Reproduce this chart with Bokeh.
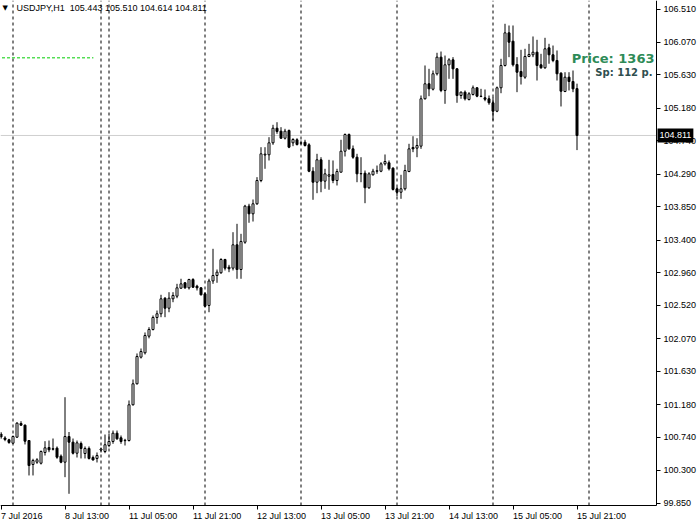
from bokeh.plotting import figure
from bokeh.models import Range1d, FixedTicker, PrintfTickFormatter, Label, ColumnDataSource
from bokeh.embed import file_html
from bokeh.resources import INLINE

symbol = "USDJPY,H1"

# Hourly bars, 7 Jul 2016 21:00 .. 15 Jul 2016 21:00 (bar index 0..144)
opens = [
    100.786, 100.732, 100.708, 100.662, 100.743, 100.928, 100.905, 100.698, 100.375, 100.406,
    100.392, 100.537, 100.604, 100.587, 100.595, 100.487, 100.406, 100.752, 100.676, 100.527,
    100.658, 100.523, 100.591, 100.469, 100.456, 100.570, 100.550, 100.631, 100.685, 100.797,
    100.735, 100.696, 100.698, 101.180, 101.463, 101.822, 101.881, 102.105, 102.195, 102.357,
    102.407, 102.617, 102.482, 102.609, 102.644, 102.752, 102.825, 102.757, 102.869, 102.779,
    102.757, 102.676, 102.519, 102.850, 102.923, 102.960, 103.139, 103.035, 103.022, 103.337,
    103.004, 103.372, 103.858, 103.755, 103.890, 104.204, 104.548, 104.551, 104.712, 104.909,
    104.869, 104.774, 104.878, 104.712, 104.753, 104.707, 104.720, 104.685, 104.329, 104.181,
    104.483, 104.195, 104.262, 104.285, 104.204, 104.316, 104.599, 104.824, 104.631, 104.518,
    104.294, 104.302, 104.106, 104.281, 104.329, 104.329, 104.429, 104.443, 104.370, 104.092,
    104.046, 104.092, 104.325, 104.649, 104.640, 104.667, 105.306, 105.508, 105.435, 105.643,
    105.867, 105.418, 105.764, 105.831, 105.710, 105.350, 105.395, 105.296, 105.364, 105.454,
    105.341, 105.319, 105.306, 105.252, 105.138, 105.454, 105.755, 106.195, 106.082, 105.768,
    105.674, 105.597, 105.876, 105.899, 105.934, 105.764, 105.724, 105.993, 105.899, 105.822,
    105.651, 105.404, 105.597, 105.539, 105.443]
highs = [
    100.813, 100.756, 100.721, 100.766, 100.945, 100.959, 100.914, 100.698, 100.452, 100.460,
    100.564, 100.689, 100.698, 100.725, 100.618, 100.510, 101.282, 100.813, 100.725, 100.698,
    100.685, 100.618, 100.618, 100.496, 100.537, 100.604, 100.779, 100.789, 100.833, 100.833,
    100.766, 100.721, 101.238, 101.521, 101.872, 101.939, 102.155, 102.226, 102.384, 102.451,
    102.663, 102.631, 102.698, 102.698, 102.811, 102.879, 102.833, 102.879, 102.887, 102.798,
    102.765, 102.698, 102.879, 103.283, 103.004, 103.156, 103.148, 103.067, 103.507, 103.620,
    103.485, 103.876, 103.890, 103.948, 104.249, 104.653, 104.653, 104.788, 104.955, 104.990,
    104.923, 104.901, 104.892, 104.774, 104.774, 104.743, 104.753, 104.707, 104.383, 104.564,
    104.518, 104.362, 104.483, 104.474, 104.362, 104.753, 104.838, 104.838, 104.676, 104.564,
    104.518, 104.339, 104.316, 104.362, 104.406, 104.451, 104.555, 104.474, 104.383, 104.114,
    104.281, 104.416, 104.699, 104.801, 104.774, 105.350, 105.755, 105.710, 105.687, 105.926,
    105.943, 105.889, 105.853, 105.867, 105.718, 105.404, 105.418, 105.395, 105.485, 105.462,
    105.440, 105.431, 105.350, 105.327, 105.471, 105.845, 106.317, 106.294, 106.294, 105.867,
    105.966, 105.980, 106.047, 106.146, 106.101, 105.912, 106.128, 106.047, 106.024, 105.957,
    105.664, 105.664, 105.664, 105.687, 105.510]
lows = [
    100.721, 100.689, 100.654, 100.654, 100.735, 100.897, 100.645, 100.227, 100.227, 100.384,
    100.375, 100.496, 100.541, 100.564, 100.452, 100.392, 100.204, 99.980, 100.510, 100.469,
    100.456, 100.456, 100.442, 100.429, 100.402, 100.537, 100.527, 100.608, 100.654, 100.708,
    100.654, 100.631, 100.685, 101.170, 101.454, 101.804, 101.858, 102.076, 102.182, 102.272,
    102.361, 102.361, 102.428, 102.563, 102.617, 102.744, 102.744, 102.734, 102.757, 102.721,
    102.654, 102.496, 102.428, 102.811, 102.825, 102.946, 102.991, 102.968, 102.991, 102.879,
    102.879, 103.351, 103.634, 103.651, 103.876, 104.181, 104.362, 104.474, 104.685, 104.834,
    104.766, 104.757, 104.640, 104.667, 104.676, 104.689, 104.662, 104.316, 103.944, 104.033,
    104.046, 104.092, 104.079, 104.168, 104.137, 104.316, 104.528, 104.618, 104.497, 104.181,
    104.181, 103.898, 104.092, 104.271, 104.294, 104.316, 104.406, 104.339, 104.069, 103.992,
    103.957, 104.069, 104.316, 104.586, 104.518, 104.631, 105.296, 105.341, 105.418, 105.620,
    105.395, 105.238, 105.575, 105.575, 105.252, 105.306, 105.283, 105.283, 105.350, 105.327,
    105.327, 105.273, 105.225, 105.013, 105.125, 105.381, 105.741, 105.867, 105.741, 105.395,
    105.498, 105.575, 105.867, 105.867, 105.552, 105.710, 105.710, 105.778, 105.799, 105.552,
    105.202, 105.395, 105.418, 105.395, 104.614]
closes = [
    100.746, 100.712, 100.672, 100.752, 100.932, 100.905, 100.689, 100.361, 100.429, 100.438,
    100.550, 100.600, 100.573, 100.581, 100.473, 100.406, 100.752, 100.676, 100.527, 100.667,
    100.591, 100.591, 100.456, 100.436, 100.496, 100.584, 100.641, 100.685, 100.797, 100.721,
    100.685, 100.701, 101.180, 101.463, 101.831, 101.898, 102.114, 102.195, 102.357, 102.407,
    102.609, 102.482, 102.617, 102.654, 102.757, 102.811, 102.757, 102.869, 102.765, 102.757,
    102.663, 102.509, 102.849, 102.923, 102.968, 103.139, 103.022, 103.014, 103.337, 103.004,
    103.382, 103.858, 103.755, 103.890, 104.204, 104.564, 104.559, 104.712, 104.909, 104.865,
    104.774, 104.869, 104.653, 104.757, 104.689, 104.712, 104.676, 104.329, 104.181, 104.483,
    104.195, 104.294, 104.281, 104.204, 104.325, 104.599, 104.824, 104.631, 104.518, 104.294,
    104.298, 104.106, 104.294, 104.329, 104.335, 104.429, 104.460, 104.362, 104.083, 104.046,
    104.092, 104.339, 104.631, 104.631, 104.676, 105.306, 105.508, 105.440, 105.643, 105.867,
    105.418, 105.764, 105.831, 105.710, 105.350, 105.395, 105.306, 105.373, 105.454, 105.341,
    105.337, 105.299, 105.252, 105.138, 105.454, 105.755, 106.195, 106.069, 105.764, 105.664,
    105.606, 105.876, 105.903, 105.934, 105.755, 105.724, 105.980, 105.899, 105.822, 105.643,
    105.408, 105.597, 105.539, 105.440, 104.811]

# time axis
time_label_bars = [0, 16, 32, 48, 64, 80, 96, 112, 128, 144]
time_labels = ["7 Jul 2016", "8 Jul 13:00", "11 Jul 05:00", "11 Jul 21:00", "12 Jul 13:00",
               "13 Jul 05:00", "13 Jul 21:00", "14 Jul 13:00", "15 Jul 05:00", "15 Jul 21:00"]
day_separator_bars = [3, 25, 27, 51, 75, 99, 123, 147]

# price axis
price_ticks = [106.510, 106.070, 105.630, 105.180, 104.740, 104.290, 103.850, 103.400,
               102.960, 102.520, 102.070, 101.630, 101.180, 100.740, 100.300, 99.850]

price_points = 1363
spread_points = 112
level_line_price = 105.858
level_line_end_bar = 23.1

FONT = "Liberation Sans"
W, H = 698, 526

# visible price window and bar window of the chart area
chart_lo, chart_hi = 99.822, 106.631
bar_lo, bar_hi = -0.125, 163.875
px_per_price = 505 / (chart_hi - chart_lo)
px_per_bar = 4

n = len(closes)
idx = list(range(n))
src = ColumnDataSource(dict(
    idx=idx, high=highs, low=lows,
    top=[max(o, c) for o, c in zip(opens, closes)],
    bottom=[min(o, c) for o, c in zip(opens, closes)],
    fill=["white" if c >= o else "black" for o, c in zip(opens, closes)],
))

p = figure(width=W, height=H, output_backend="svg", toolbar_location=None,
           x_range=Range1d(bar_lo, bar_lo + W / px_per_bar),
           y_range=Range1d(chart_hi - H / px_per_price, chart_hi),
           y_axis_location="right",
           min_border_left=0, min_border_top=0, min_border_right=0, min_border_bottom=0)
p.background_fill_color = "white"
p.border_fill_color = "white"
p.outline_line_color = None
p.xgrid.visible = False
p.ygrid.visible = False

# right price axis, pinned to the chart's right edge
ya = p.yaxis[0]
ya.fixed_location = bar_hi
ya.bounds = (chart_lo, chart_hi)
ya.ticker = FixedTicker(ticks=price_ticks)
ya.formatter = PrintfTickFormatter(format="%.3f")
ya.major_tick_out = 4
ya.major_tick_in = 0
ya.minor_tick_line_color = None
ya.major_label_standoff = 3
ya.major_label_text_font = FONT
ya.major_label_text_font_size = "9px"
ya.major_label_text_color = "black"
ya.axis_line_color = "black"
ya.major_tick_line_color = "black"

# bottom time axis, pinned to the chart's bottom edge (tick marks; labels left-aligned below)
xa = p.xaxis[0]
xa.fixed_location = chart_lo
xa.bounds = (bar_lo, bar_hi)
xa.ticker = FixedTicker(ticks=time_label_bars)
xa.major_label_text_color = None
xa.major_tick_out = 4
xa.major_tick_in = 0
xa.minor_tick_line_color = None
xa.axis_line_color = "black"
xa.major_tick_line_color = "black"

# day separators
p.segment(x0=day_separator_bars, y0=[chart_lo] * len(day_separator_bars),
          x1=day_separator_bars, y1=[chart_hi] * len(day_separator_bars),
          line_color="black", line_width=1, line_dash="3 3")

# bid line
p.segment(x0=[bar_lo], y0=[closes[-1]], x1=[bar_hi], y1=[closes[-1]],
          line_color="#cfcfcf", line_width=1)

p.segment(x0=[-1], y0=[level_line_price], x1=[level_line_end_bar], y1=[level_line_price],
          line_color="#00cc00", line_width=1, line_dash="3 2")

p.segment(x0="idx", y0="low", x1="idx", y1="high", source=src, line_color="black", line_width=1)
p.vbar(x="idx", width=0.5, top="top", bottom="bottom", source=src,
       fill_color="fill", line_color="black", line_width=1)

for b, t in zip(time_label_bars, time_labels):
    p.add_layout(Label(x=b, y=10.5, x_units="data", y_units="screen", text=t,
                       text_align="left", text_baseline="middle", text_font=FONT,
                       text_font_size="9px", text_color="black"))

title = f"{symbol}\u00a0\u00a0{opens[-1]:.3f} {highs[-1]:.3f} {lows[-1]:.3f} {closes[-1]:.3f}"
p.add_layout(Label(x=16, y=H - 7, x_units="screen", y_units="screen", text=title,
                   text_align="left", text_baseline="middle", text_font=FONT,
                   text_font_size="9px", text_color="black"))
p.add_layout(Label(x=2, y=H - 7, x_units="screen", y_units="screen", text="\u25bc",
                   text_align="left", text_baseline="middle", text_font="DejaVu Sans",
                   text_font_size="7px", text_color="black"))

p.add_layout(Label(x=654, y=H - 58, x_units="screen", y_units="screen",
                   text=f"Price: {price_points}", text_align="right", text_baseline="middle",
                   text_font="DejaVu Sans", text_font_style="bold", text_font_size="13px",
                   text_color="#2e8b57"))
p.add_layout(Label(x=652, y=H - 72, x_units="screen", y_units="screen",
                   text=f"Sp: {spread_points} p.", text_align="right", text_baseline="middle",
                   text_font="DejaVu Sans", text_font_style="bold", text_font_size="10px",
                   text_color="#2f4f4f"))

p.add_layout(Label(x=657, y=closes[-1], x_units="screen", y_units="data",
                   text=f"{closes[-1]:.3f}", text_align="left", text_baseline="middle",
                   text_font=FONT, text_font_size="9px", text_color="white",
                   background_fill_color="black", padding=(2, 4)))

open("out.html", "w").write(file_html(p, INLINE))
